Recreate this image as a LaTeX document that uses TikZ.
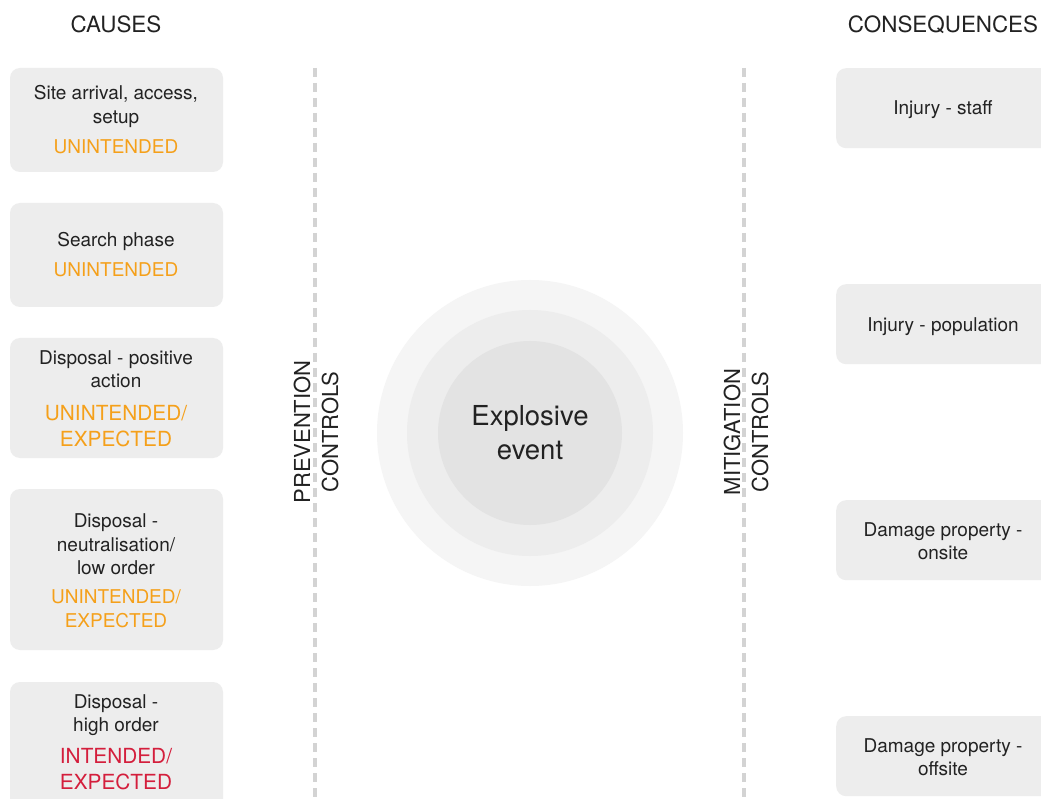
\documentclass[tikz,border=0pt]{standalone}
\usepackage{fontspec}
\setmainfont{TeX Gyre Heros}
\definecolor{boxgray}{HTML}{EDEDED}
\definecolor{ring1}{HTML}{F5F5F5}
\definecolor{ring2}{HTML}{EDEDED}
\definecolor{ring3}{HTML}{E3E3E3}
\definecolor{dashgray}{HTML}{D3D3D3}
\definecolor{txt}{HTML}{222222}
\definecolor{amber}{HTML}{F5A01A}
\definecolor{crimson}{HTML}{D41E3C}
\begin{document}
\begin{tikzpicture}[x=1pt,y=-1pt,
  cbox/.style={fill=boxgray, rounded corners=10pt, inner sep=0pt},
  blk/.style={text=txt, font=\fontsize{19}{22}\selectfont, inner sep=0pt, anchor=base},
  org/.style={text=amber, font=\fontsize{19}{22}\selectfont, inner sep=0pt, anchor=base},
  orgL/.style={text=amber, font=\fontsize{20.8}{24}\selectfont, inner sep=0pt, anchor=base},
  redL/.style={text=crimson, font=\fontsize{20.8}{24}\selectfont, inner sep=0pt, anchor=base},
  hdr/.style={text=txt, font=\fontsize{22.4}{26}\selectfont, inner sep=0pt, anchor=base},
  ctl/.style={text=txt, font=\fontsize{22}{28}\selectfont, inner sep=0pt, rotate=90, align=center},
  dashline/.style={draw=dashgray, line width=4pt, dash pattern=on 9pt off 6pt},
  ring/.style={circle, inner sep=0pt}]
\useasboundingbox (0,0) rectangle (1041,799);
\clip (0,0) rectangle (1041,799);
\fill[white] (0,0) rectangle (1041,799);

% headers
\node[hdr] (hcause) at (116,33) {CAUSES};
\node[hdr] (hcons) at (943,33) {CONSEQUENCES};

% dashed lines
\coordinate (pl1) at (315,68);
\coordinate (pl2) at (315,800);
\coordinate (ml1) at (744,68);
\coordinate (ml2) at (744,800);
\draw[dashline] (pl1) -- (pl2);
\draw[dashline] (ml1) -- (ml2);

% control labels
\node[ctl] (prev) at (316,432) {PREVENTION\\CONTROLS};
\node[ctl] (mitig) at (746,432) {MITIGATION\\CONTROLS};

% circles
\node[ring, fill=ring1, minimum size=306pt] (r1) at (530,433) {};
\node[ring, fill=ring2, minimum size=246pt] (r2) at (530,433) {};
\node[ring, fill=ring3, minimum size=184pt] (r3) at (530,433) {};
\node[text=txt, font=\fontsize{27.5}{34}\selectfont, align=center, inner sep=0pt] (ev) at (530,433) {Explosive\\event};

% cause boxes
\node[cbox, minimum width=213pt, minimum height=104pt] (c1) at (116.5,120) {};
\node[cbox, minimum width=213pt, minimum height=104pt] (c2) at (116.5,255) {};
\node[cbox, minimum width=213pt, minimum height=120pt] (c3) at (116.5,398) {};
\node[cbox, minimum width=213pt, minimum height=161pt] (c4) at (116.5,569.5) {};
\node[cbox, minimum width=213pt, minimum height=130pt] (c5) at (116.5,747) {};

\node[blk] (c1a) at (116,100) {Site arrival, access,};
\node[blk] (c1b) at (116,124) {setup};
\node[org] (c1c) at (116,154) {UNINTENDED};

\node[blk] (c2a) at (116,247) {Search phase};
\node[org] (c2b) at (116,277) {UNINTENDED};

\node[blk] (c3a) at (116,365) {Disposal - positive};
\node[blk] (c3b) at (116,388) {action};
\node[orgL] (c3c) at (116,420) {UNINTENDED/};
\node[orgL] (c3d) at (116,446) {EXPECTED};

\node[blk] (c4a) at (116,527) {Disposal -};
\node[blk] (c4b) at (116,551) {neutralisation/};
\node[blk] (c4c) at (116,574) {low order};
\node[org] (c4d) at (116,603) {UNINTENDED/};
\node[org] (c4e) at (116,627) {EXPECTED};

\node[blk] (c5a) at (116,708) {Disposal -};
\node[blk] (c5b) at (116,731) {high order};
\node[redL] (c5c) at (116,763) {INTENDED/};
\node[redL] (c5d) at (116,789) {EXPECTED};

% consequence boxes
\node[cbox, minimum width=230pt, minimum height=80pt, anchor=north west] (q1) at (836,68) {};
\node[cbox, minimum width=230pt, minimum height=80pt, anchor=north west] (q2) at (836,284) {};
\node[cbox, minimum width=230pt, minimum height=80pt, anchor=north west] (q3) at (836,500) {};
\node[cbox, minimum width=230pt, minimum height=80pt, anchor=north west] (q4) at (836,716) {};

\node[blk] (q1a) at (943,115) {Injury - staff};
\node[blk] (q2a) at (943,332) {Injury - population};
\node[blk] (q3a) at (943,536) {Damage property -};
\node[blk] (q3b) at (943,559) {onsite};
\node[blk] (q4a) at (943,752) {Damage property -};
\node[blk] (q4b) at (943,775) {offsite};
\end{tikzpicture}
\end{document}
